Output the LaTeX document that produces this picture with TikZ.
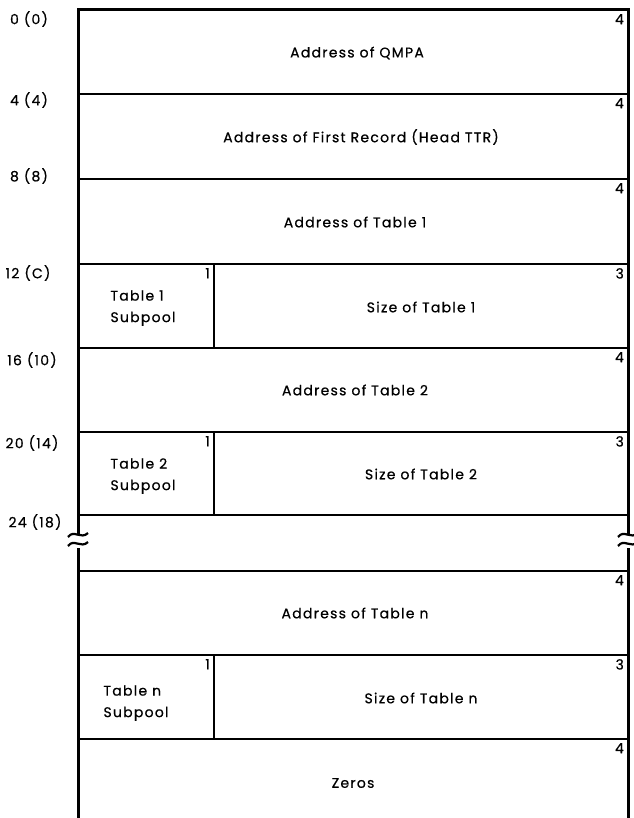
\documentclass[tikz,border=0pt]{standalone}
\usepackage{fontspec}
\setmainfont{Poppins}[LetterSpace=9,FakeBold=0.6]
\begin{document}
\begin{tikzpicture}[x=1pt,y=-1pt,
  lbl/.style={font=\fontsize{14}{21.5}\selectfont, inner sep=0pt},
  num/.style={font=\fontsize{14}{15}\selectfont, inner sep=0pt, anchor=north east},
  hline/.style={line width=1.9pt},
  vline/.style={line width=3pt},
  brk/.style={line width=2.2pt}]
\useasboundingbox (0,0) rectangle (633,818);
% horizontal boundaries
\draw[vline] (78,10) -- (628,10);
\foreach \y in {94,179,264,348,432,515,571,655,739}
  \draw[hline] (78,\y) -- (628,\y);
% outer verticals with break
\draw[vline] (78,8.5) -- (78,534);
\draw[vline] (78,548) -- (78,818);
\draw[vline] (628,8.5) -- (628,534);
\draw[vline] (628,548) -- (628,818);
% break marks
\foreach \x in {78,628}{
  \draw[brk] (\x-10,537) .. controls (\x-4,529) and (\x+3,540) .. (\x+10,533);
  \draw[brk] (\x-10,546) .. controls (\x-4,538) and (\x+3,549) .. (\x+10,542);
}
% subpool dividers
\draw[hline] (214,264) -- (214,348);
\draw[hline] (214,432) -- (214,515);
\draw[hline] (214,655) -- (214,739);
% offsets
\node[lbl] (o0) at (29,19) {0 (0)};
\node[lbl] (o4) at (29,100) {4 (4)};
\node[lbl] (o8) at (29,176) {8 (8)};
\node[lbl] (o12) at (28,273) {12 (C)};
\node[lbl] (o16) at (32,360) {16 (10)};
\node[lbl] (o20) at (32,443) {20 (14)};
\node[lbl] (o24) at (35,522) {24 (18)};
% field texts
\node[lbl] (qmpa) at (357,53) {Address of QMPA};
\node[lbl] (head) at (361,137) {Address of First Record (Head TTR)};
\node[lbl] (at1) at (355,222) {Address of Table 1};
\node[lbl,align=left] (sp1) at (143,308) {Table 1\\Subpool};
\node[lbl] (st1) at (421,307) {Size of Table 1};
\node[lbl] (at2) at (355,390) {Address of Table 2};
\node[lbl,align=left] (sp2) at (143,476) {Table 2\\Subpool};
\node[lbl] (st2) at (421,474) {Size of Table 2};
\node[lbl] (atn) at (355,613) {Address of Table n};
\node[lbl,align=left] (spn) at (136,703) {Table n\\Subpool};
\node[lbl] (stn) at (421,698) {Size of Table n};
\node[lbl] (zer) at (353,783) {Zeros};
% byte counts
\foreach \y in {10,94,179,348,571,739}
  \node[num] at (624,\y+4) {4};
\foreach \y in {264,432,655}
  \node[num] at (624,\y+4) {3};
\foreach \y in {264,432,655}
  \node[num] at (210,\y+4) {1};
\end{tikzpicture}
\end{document}
